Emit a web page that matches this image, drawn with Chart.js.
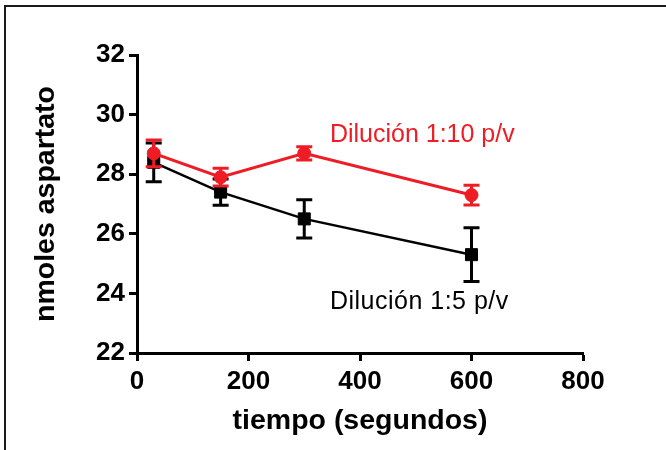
<!DOCTYPE html>
<html>
<head>
<meta charset="utf-8">
<script src="https://cdn.jsdelivr.net/npm/chart.js@4.4.1/dist/chart.umd.min.js"></script>
<style>
  body { margin: 0; background: #fff; }
  #wrap { position: relative; width: 666px; height: 450px; overflow: hidden; }
  canvas { position: absolute; left: 0; top: 0; }
  #frame {
    position: absolute; left: 4px; top: 5px; right: 0; bottom: 0;
    border-top: 2px solid #1a1a1a; border-left: 2px solid #1a1a1a;
    pointer-events: none;
  }
</style>
</head>
<body>
<div id="wrap">
  <canvas id="chart" width="666" height="450"></canvas>
  <div id="frame"></div>
</div>
<script>
// tiempo en segundos, nmoles de aspartato (media y error)
const tiempos = [30, 150, 300, 600];
const dil5 = [28.4, 27.4, 26.5, 25.3];
const dil5Err = [0.65, 0.44, 0.64, 0.9];
const dil10 = [28.7, 27.9, 28.7, 27.3];
const dil10Err = [0.45, 0.3, 0.22, 0.33];
const series = ["Dilución 1:10 p/v", "Dilución 1:5 p/v"];
const xTicks = [0, 200, 400, 600, 800];
const yTicks = [22, 24, 26, 28, 30, 32];

const ROJO = "#ee1c25";
const FONT = "'Liberation Sans', Arial, sans-serif";

const toPoints = (ys) => tiempos.map((t, i) => ({ x: t, y: ys[i] }));

// barras de error verticales con remate, antes de cada serie
const errorBars = {
  id: "errorBars",
  beforeDatasetDraw(chart, args) {
    const ds = chart.data.datasets[args.index];
    if (!ds.errors) return;
    const { ctx, scales: { x, y } } = chart;
    const cap = 8;
    ctx.save();
    ctx.strokeStyle = ds.borderColor;
    ctx.lineWidth = 3;
    ds.data.forEach((p, i) => {
      const px = x.getPixelForValue(p.x);
      const top = y.getPixelForValue(p.y + ds.errors[i]);
      const bot = y.getPixelForValue(p.y - ds.errors[i]);
      ctx.beginPath();
      ctx.moveTo(px, top); ctx.lineTo(px, bot);
      ctx.moveTo(px - cap, top); ctx.lineTo(px + cap, top);
      ctx.moveTo(px - cap, bot); ctx.lineTo(px + cap, bot);
      ctx.stroke();
    });
    ctx.restore();
  }
};

// rótulos de cada serie dentro del gráfico
const seriesLabels = {
  id: "seriesLabels",
  afterDatasetsDraw(chart, args, opts) {
    const { ctx, scales: { x, y } } = chart;
    ctx.save();
    ctx.textAlign = "left";
    ctx.textBaseline = "alphabetic";
    opts.items.forEach((it) => {
      ctx.font = "25px " + FONT;
      ctx.letterSpacing = it.spacing + "px";
      ctx.fillStyle = it.color;
      ctx.fillText(it.text, x.getPixelForValue(it.at[0]), y.getPixelForValue(it.at[1]));
    });
    ctx.restore();
  }
};

const tickFont = { family: FONT, size: 26, weight: "bold" };
const titleFont = { family: FONT, size: 28.5, weight: "bold" };

new Chart(document.getElementById("chart"), {
  type: "line",
  data: {
    datasets: [
      {
        label: series[0],
        data: toPoints(dil10),
        errors: dil10Err,
        borderColor: ROJO,
        backgroundColor: ROJO,
        borderWidth: 3,
        pointStyle: "circle",
        pointRadius: 6.5,
        pointBorderWidth: 1,
        tension: 0
      },
      {
        label: series[1],
        data: toPoints(dil5),
        errors: dil5Err,
        borderColor: "#000",
        backgroundColor: "#000",
        borderWidth: 2.5,
        pointStyle: "rect",
        pointRadius: 8.5,
        pointBorderWidth: 1,
        tension: 0
      }
    ]
  },
  options: {
    responsive: false,
    animation: false,
    devicePixelRatio: 1,
    layout: { padding: { top: 55, right: 83, left: 0, bottom: 0 } },
    plugins: {
      legend: { display: false },
      tooltip: { enabled: false },
      seriesLabels: {
        items: [
          { text: series[0], at: [346, 29.08], color: ROJO, spacing: 0 },
          { text: series[1], at: [346, 23.48], color: "#000", spacing: 0.5 }
        ]
      }
    },
    scales: {
      x: {
        type: "linear",
        min: xTicks[0],
        max: xTicks[xTicks.length - 1],
        afterBuildTicks: (s) => { s.ticks = xTicks.map((v) => ({ value: v })); },
        afterFit: (s) => { s.height = 97; },
        border: { color: "#000", width: 3 },
        grid: { drawOnChartArea: false, drawTicks: true, tickLength: 8, tickColor: "#000", tickWidth: 3 },
        ticks: { color: "#000", font: tickFont, padding: 5, maxRotation: 0 },
        title: { display: true, text: "tiempo (segundos)", color: "#000", font: titleFont, padding: { top: 0, bottom: 12 } }
      },
      y: {
        type: "linear",
        min: yTicks[0],
        max: yTicks[yTicks.length - 1],
        afterBuildTicks: (s) => { s.ticks = yTicks.map((v) => ({ value: v })); },
        afterFit: (s) => { s.width = 137; },
        border: { color: "#000", width: 3 },
        grid: { drawOnChartArea: false, drawTicks: true, tickLength: 8, tickColor: "#000", tickWidth: 3 },
        ticks: { color: "#000", font: tickFont, padding: 4 },
        title: { display: true, text: "nmoles aspartato", color: "#000", font: titleFont, padding: { top: 29, bottom: 0 } }
      }
    }
  },
  plugins: [errorBars, seriesLabels]
});
</script>
</body>
</html>
